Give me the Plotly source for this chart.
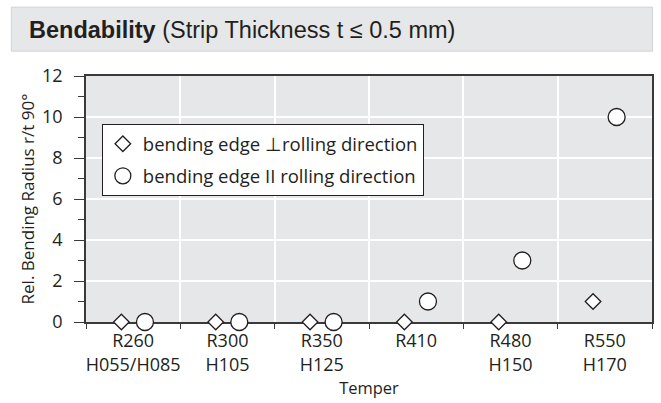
import plotly.graph_objects as go

categories = ["R260<br>H055/H085", "R300<br>H105", "R350<br>H125", "R410", "R480<br>H150", "R550<br>H170"]
perp_values = [0, 0, 0, 0, 0, 1]
par_values = [0, 0, 0, 1, 3, 10]
y_ticks = [0, 2, 4, 6, 8, 10, 12]

FONT = "Open Sans"
AX = "#3a3a3a"
BG = "#e6e7e8"
TXT = "#231f20"

fig = go.Figure()
fig.add_trace(go.Scatter(
    x=categories, y=perp_values, mode="markers", name="bending edge \u22a5rolling direction",
    offsetgroup="a", legendgroup="a", cliponaxis=False,
    marker=dict(symbol="diamond", size=12, color="white", line=dict(color=TXT, width=1.3)),
))
fig.add_trace(go.Scatter(
    x=categories, y=par_values, mode="markers", name="bending edge II rolling direction",
    offsetgroup="b", legendgroup="b", cliponaxis=False,
    marker=dict(symbol="circle", size=17, color="white", line=dict(color=TXT, width=1.3)),
))

fig.update_layout(
    width=661, height=403,
    margin=dict(l=86, r=9, t=76, b=81),
    paper_bgcolor="white", plot_bgcolor=BG,
    scattermode="group", scattergap=0.5,
    font=dict(family=FONT, size=17, color=TXT),
    showlegend=True,
    legend=dict(x=0.028, y=0.804, xanchor="left", yanchor="top",
                bgcolor="white", bordercolor=TXT, borderwidth=1,
                font=dict(family=FONT, size=18.5, color=TXT),
                itemwidth=30, tracegroupgap=5),
    xaxis=dict(type="category", categoryarray=categories, categoryorder="array",
               range=[-0.5, 5.5], tickson="boundaries", ticks="outside", ticklen=5,
               tickcolor=AX, tickwidth=1.2, automargin=False, tickangle=0,
               ticklabelstandoff=2,
               showline=True, linecolor=AX, linewidth=1.5, mirror=True,
               showgrid=True, gridcolor="white", gridwidth=1.5,
               layer="below traces",
               title=dict(text="Temper", standoff=1, font=dict(size=16.5)),
               tickfont=dict(size=18)),
    yaxis=dict(range=[0, 12], tickvals=y_ticks, ticks="outside", ticklen=10,
               tickcolor=AX, tickwidth=1.2, automargin=False, ticklabelstandoff=8,
               minor=dict(dtick=1, ticks="outside", ticklen=6, tickcolor=AX, tickwidth=1.2, showgrid=False),
               showline=True, linecolor=AX, linewidth=1.5, mirror=True,
               showgrid=True, gridcolor="white", gridwidth=1.5, zeroline=False,
               layer="below traces",
               title=dict(text="Rel. Bending Radius r/t 90\u00b0", font=dict(size=17), standoff=3),
               tickfont=dict(size=18)),
)

fig.add_shape(type="rect", xref="paper", yref="paper",
              x0=-0.132, x1=1.001, y0=1.101, y1=1.280,
              fillcolor=BG, line=dict(color="#d2d3d4", width=1), layer="below")
fig.add_annotation(xref="paper", yref="paper", x=-0.104, y=1.189, xanchor="left", yanchor="middle",
                   showarrow=False,
                   text="<b>Bendability</b> (Strip Thickness t \u2264 0.5 mm)",
                   font=dict(family="Liberation Sans", size=23.5, color=TXT))

fig.write_html("out.html", config={"displayModeBar": False},
               post_script="document.body.style.margin='0';")
